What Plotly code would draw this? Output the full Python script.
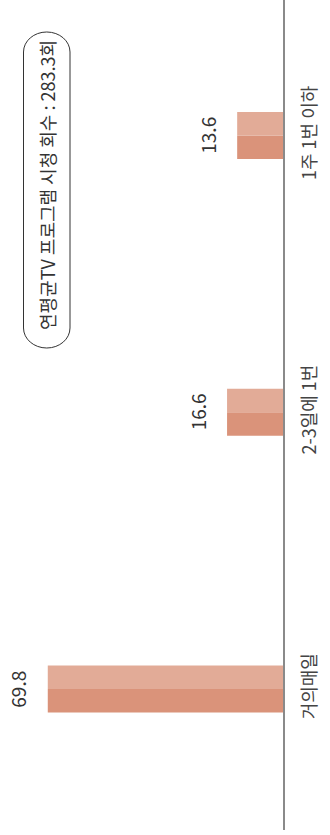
import plotly.graph_objects as go

# Data
categories = ["거의매일", "2-3일에 1번", "1주 1번 이하"]
values = [69.8, 16.6, 13.6]
summary_text = "연평균TV 프로그램 시청 회수 : 283.3회"

# Layout constants (pixels)
W, H = 330, 835
M_L, M_R, M_T, M_B = 0, 47, 0, 5
PLOT_W = W - M_L - M_R
PLOT_H = H - M_T - M_B
PX_PER_UNIT = 3.37

FONT = "Noto Sans CJK KR"


def px_x(p):
    return (p - M_L) / PLOT_W


def px_y(p):
    return 1 - (p - M_T) / PLOT_H


fig = go.Figure()

# Each bar is drawn as two halves in two tones
fig.add_trace(go.Bar(
    y=categories, x=values, orientation="h",
    marker=dict(color="#DA937A", line=dict(width=0)),
    hoverinfo="skip", showlegend=False,
))
fig.add_trace(go.Bar(
    y=categories, x=values, orientation="h",
    marker=dict(color="#E2AB97", line=dict(width=0)),
    hoverinfo="skip", showlegend=False,
))

# Value labels just beyond each bar end
annotations = []
for cat, v in zip(categories, values):
    annotations.append(dict(
        x=v + 30 / PX_PER_UNIT, y=cat, xref="x", yref="y",
        text=f"{v:.1f}", showarrow=False, textangle=-90,
        xanchor="center", yanchor="middle",
        font=dict(family=FONT, size=19, color="#333333"),
    ))

# Summary label inside a rounded box
annotations.append(dict(
    x=px_x(47), y=px_y(185), xref="paper", yref="paper",
    text=summary_text, showarrow=False, textangle=-90,
    xanchor="center", yanchor="middle",
    font=dict(family=FONT, size=18, color="#333333"),
))

# Pill-shaped outline (cubic curves for the rounded ends)
x0, x1 = 23.5, 70
y0, y1 = 32, 348
rx = (x1 - x0) / 2
ry = 20
k = 0.5523
xm = (x0 + x1) / 2


def P(x, y):
    return f"{px_x(x):.5f},{px_y(y):.5f}"


path = (
    f"M {P(x0, y0 + ry)} "
    f"C {P(x0, y0 + ry - k * ry)} {P(xm - k * rx, y0)} {P(xm, y0)} "
    f"C {P(xm + k * rx, y0)} {P(x1, y0 + ry - k * ry)} {P(x1, y0 + ry)} "
    f"L {P(x1, y1 - ry)} "
    f"C {P(x1, y1 - ry + k * ry)} {P(xm + k * rx, y1)} {P(xm, y1)} "
    f"C {P(xm - k * rx, y1)} {P(x0, y1 - ry + k * ry)} {P(x0, y1 - ry)} "
    f"Z"
)

fig.update_layout(
    width=W, height=H,
    margin=dict(l=M_L, r=M_R, t=M_T, b=M_B, pad=0),
    paper_bgcolor="white", plot_bgcolor="white",
    barmode="group", bargap=0.83, bargroupgap=0,
    annotations=annotations,
    shapes=[dict(type="path", path=path, xref="paper", yref="paper",
                 line=dict(color="#333333", width=1), fillcolor="rgba(0,0,0,0)")],
    xaxis=dict(range=[PLOT_W / PX_PER_UNIT, 0], showgrid=False, zeroline=False,
               showticklabels=False, showline=False, fixedrange=True),
    yaxis=dict(type="category", categoryorder="array", categoryarray=categories,
               range=[-0.51, 2.49], side="right", showgrid=False, zeroline=False,
               showline=True, linecolor="#8a8a8a", linewidth=1.5,
               ticks="", tickangle=-90, ticklabelstandoff=10,
               tickfont=dict(family=FONT, size=18, color="#444444"),
               fixedrange=True),
)

fig.write_html("out.html")
